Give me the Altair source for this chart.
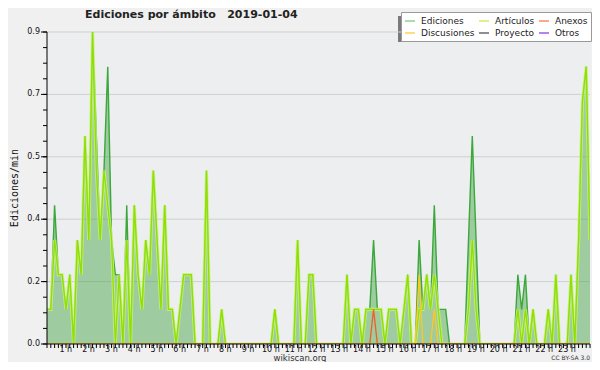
import altair as alt
import pandas as pd

F = "DejaVu Sans"

# legend order (filled column by column, 2 rows)
series_names = ["Ediciones", "Discusiones", "Artículos", "Proyecto", "Anexos", "Otros"]
legend_colors = ["#8fd18f", "#ffd256", "#d2ef5a", "#6a6a6a", "#ff8a5c", "#9a5cf0"]

# edits per minute, one value per 10-minute bin (6 per hour)
ediciones = [
    0.1, 0.1, 0.4, 0.2, 0.2, 0.1,   # 0 h
    0.2, 0.0, 0.3, 0.2, 0.6, 0.3,   # 1 h
    0.9, 0.6, 0.3, 0.5, 0.8, 0.3,   # 2 h
    0.2, 0.2, 0.0, 0.4, 0.0, 0.4,   # 3 h
    0.2, 0.1, 0.3, 0.2, 0.5, 0.3,   # 4 h
    0.1, 0.4, 0.1, 0.1, 0.0, 0.1,   # 5 h
    0.2, 0.2, 0.2, 0.0, 0.0, 0.0,   # 6 h
    0.5, 0.0, 0.0, 0.0, 0.1, 0.0,   # 7 h
    0.0, 0.0, 0.0, 0.0, 0.0, 0.0,   # 8 h
    0.0, 0.0, 0.0, 0.0, 0.0, 0.0,   # 9 h
    0.1, 0.0, 0.0, 0.0, 0.0, 0.0,   # 10 h
    0.3, 0.0, 0.0, 0.2, 0.2, 0.0,   # 11 h
    0.0, 0.0, 0.0, 0.0, 0.0, 0.0,   # 12 h
    0.0, 0.2, 0.0, 0.1, 0.1, 0.0,   # 13 h
    0.1, 0.1, 0.3, 0.1, 0.1, 0.0,   # 14 h
    0.1, 0.1, 0.1, 0.0, 0.1, 0.2,   # 15 h
    0.0, 0.0, 0.3, 0.1, 0.2, 0.1,   # 16 h
    0.4, 0.1, 0.1, 0.1, 0.0, 0.0,   # 17 h
    0.0, 0.0, 0.0, 0.3, 0.6, 0.3,   # 18 h
    0.0, 0.0, 0.0, 0.0, 0.0, 0.0,   # 19 h
    0.0, 0.0, 0.0, 0.0, 0.2, 0.1,   # 20 h
    0.2, 0.0, 0.1, 0.0, 0.0, 0.0,   # 21 h
    0.1, 0.0, 0.2, 0.0, 0.0, 0.0,   # 22 h
    0.2, 0.0, 0.3, 0.7, 0.8, 0.3,   # 23 h
]

articulos = [
    0.1, 0.1, 0.3, 0.2, 0.2, 0.1,   # 0 h
    0.2, 0.0, 0.3, 0.2, 0.6, 0.3,   # 1 h
    0.9, 0.5, 0.3, 0.5, 0.4, 0.3,   # 2 h
    0.0, 0.2, 0.0, 0.3, 0.0, 0.4,   # 3 h
    0.2, 0.1, 0.3, 0.2, 0.5, 0.3,   # 4 h
    0.1, 0.4, 0.1, 0.1, 0.0, 0.1,   # 5 h
    0.2, 0.2, 0.2, 0.0, 0.0, 0.0,   # 6 h
    0.5, 0.0, 0.0, 0.0, 0.1, 0.0,   # 7 h
    0.0, 0.0, 0.0, 0.0, 0.0, 0.0,   # 8 h
    0.0, 0.0, 0.0, 0.0, 0.0, 0.0,   # 9 h
    0.1, 0.0, 0.0, 0.0, 0.0, 0.0,   # 10 h
    0.3, 0.0, 0.0, 0.2, 0.2, 0.0,   # 11 h
    0.0, 0.0, 0.0, 0.0, 0.0, 0.0,   # 12 h
    0.0, 0.2, 0.0, 0.1, 0.1, 0.0,   # 13 h
    0.1, 0.1, 0.1, 0.1, 0.1, 0.0,   # 14 h
    0.1, 0.1, 0.1, 0.0, 0.1, 0.2,   # 15 h
    0.0, 0.0, 0.1, 0.1, 0.2, 0.1,   # 16 h
    0.2, 0.1, 0.0, 0.0, 0.0, 0.0,   # 17 h
    0.0, 0.0, 0.0, 0.1, 0.3, 0.1,   # 18 h
    0.0, 0.0, 0.0, 0.0, 0.0, 0.0,   # 19 h
    0.0, 0.0, 0.0, 0.0, 0.1, 0.0,   # 20 h
    0.1, 0.0, 0.1, 0.0, 0.0, 0.0,   # 21 h
    0.1, 0.0, 0.2, 0.0, 0.0, 0.0,   # 22 h
    0.2, 0.0, 0.3, 0.7, 0.8, 0.3,   # 23 h
]

# only the non-zero bins of the small namespaces
anexos_bins = [86]
anexos_vals = [0.1]
discusiones_bins = [98, 102]
discusiones_vals = [0.2, 0.1]

# axis ticks and labels
y_major = [0.0, 0.18, 0.36, 0.54, 0.72, 0.9]
y_major_labels = ["0.0", "0.2", "0.4", "0.5", "0.7", "0.9"]
y_minor = [round(i * 0.045, 3) for i in range(21)]
x_ticks = list(range(144))
hour_bins = [6 * h for h in range(1, 24)]
hour_labels = [f"{h} h" for h in range(1, 24)]

bins = list(range(len(ediciones)))
anexos = [0.0] * len(bins)
for b, v in zip(anexos_bins, anexos_vals):
    anexos[b] = v
discusiones = [0.0] * len(bins)
for b, v in zip(discusiones_bins, discusiones_vals):
    discusiones[b] = v

df = pd.DataFrame({
    "bin": bins,
    "Ediciones": ediciones,
    "Artículos": articulos,
    "Anexos": anexos,
    "Discusiones": discusiones,
})
long_df = df.melt("bin", var_name="serie", value_name="v")

W, H = 543, 312

x_scale = alt.Scale(domain=[0, 143], nice=False, zero=False)
y_scale = alt.Scale(domain=[0, 0.9], nice=False)


def X(field):
    return alt.X(f"{field}:Q", scale=x_scale, axis=None)


def Y(field):
    return alt.Y(f"{field}:Q", scale=y_scale, axis=None)


base = alt.Chart(df)

# grid lines behind the data
grid = alt.Chart(pd.DataFrame({"g": y_major[1:]})).mark_rule(color="#cfcfcf", strokeWidth=1).encode(
    y=Y("g")
)

legend_layer = alt.Chart(long_df).mark_line(opacity=0).encode(
    x=X("bin"),
    y=Y("v"),
    color=alt.Color(
        "serie:N",
        scale=alt.Scale(domain=series_names, range=legend_colors),
        sort=series_names,
        legend=alt.Legend(
            title=None, orient="none", legendX=354, legendY=-20, columns=3,
            symbolType="stroke", symbolSize=100, symbolStrokeWidth=1.5, symbolOpacity=1,
            labelFont=F, labelFontSize=9, labelColor="#222", labelOffset=5,
            columnPadding=1, rowPadding=1, padding=3,
            fillColor="#ffffff", strokeColor="#999999", cornerRadius=0, labelLimit=0,
        ),
    ),
)

area = base.mark_area(color="#3ca03c", opacity=0.44, interpolate="linear").encode(
    x=X("bin"), y=Y("Ediciones")
)


def series_line(field, color, width, opacity=1.0):
    return base.mark_line(color=color, strokeWidth=width, opacity=opacity, clip=True).encode(
        x=X("bin"), y=Y(field)
    )


ed_line = series_line("Ediciones", "#3aa83a", 1.4)
art_halo = series_line("Artículos", "#c9f27a", 3.2, 0.8)
art_line = series_line("Artículos", "#8fe000", 1.3)
anx_line = series_line("Anexos", "#f06020", 1.3)
dis_line = series_line("Discusiones", "#ffc820", 1.3)

# axes drawn from the tick arrays through the same scales
x_domain = alt.Chart(pd.DataFrame({"z": [0.0]})).mark_rule(color="#000", strokeWidth=1).encode(y=Y("z"))
y_domain = alt.Chart(pd.DataFrame({"z": [0]})).mark_rule(color="#000", strokeWidth=1).encode(x=X("z"))
x_tick_marks = alt.Chart(pd.DataFrame({"t": x_ticks})).mark_rule(color="#000", strokeWidth=1).encode(
    x=X("t"), y=alt.value(H), y2=alt.value(H + 4)
)
x_tick_labels = alt.Chart(pd.DataFrame({"t": hour_bins, "lab": hour_labels})).mark_text(
    font=F, fontSize=8, color="#111", align="center", baseline="middle", dx=-4
).encode(x=X("t"), y=alt.value(H + 6), text="lab:N")
y_minor_marks = alt.Chart(pd.DataFrame({"m": y_minor})).mark_rule(color="#000", strokeWidth=1).encode(
    y=Y("m"), x=alt.value(-4), x2=alt.value(0)
)
y_major_marks = alt.Chart(pd.DataFrame({"m": y_major})).mark_rule(color="#000", strokeWidth=1).encode(
    y=Y("m"), x=alt.value(-6), x2=alt.value(0)
)
y_tick_labels = alt.Chart(pd.DataFrame({"m": y_major, "lab": y_major_labels})).mark_text(
    font=F, fontSize=8, color="#111", align="right", baseline="middle"
).encode(y=Y("m"), x=alt.value(-7), text="lab:N")

notes = pd.DataFrame({"t": ["x"]})
title = alt.Chart(notes).mark_text(
    text="Ediciones por ámbito\u00a0\u00a0 2019-01-04", font=F, fontSize=11, fontWeight="bold",
    color="#222", align="left", baseline="alphabetic",
).encode(x=alt.value(38), y=alt.value(-14))
y_title = alt.Chart(notes).mark_text(
    text="Ediciones/min", font="DejaVu Sans Mono", fontSize=10, color="#111",
    align="center", baseline="middle", angle=270,
).encode(x=alt.value(-32), y=alt.value(H / 2))
shadow = alt.Chart(notes).mark_rect(color="#7a7a7a").encode(
    x=alt.value(351), x2=alt.value(542), y=alt.value(-16), y2=alt.value(10)
)
site = alt.Chart(notes).mark_text(
    text="wikiscan.org", font=F, fontSize=8.5, color="#333", align="center", baseline="middle"
).encode(x=alt.value(253), y=alt.value(326))
lic = alt.Chart(notes).mark_text(
    text="CC BY-SA 3.0", font=F, fontSize=6, color="#333", align="right", baseline="middle"
).encode(x=alt.value(543), y=alt.value(326))

chart = alt.layer(
    shadow, grid, legend_layer, area, ed_line, art_halo, art_line, anx_line, dis_line,
    x_domain, y_domain, x_tick_marks, x_tick_labels, y_minor_marks, y_major_marks,
    y_tick_labels, title, y_title, site, lic
).properties(
    width=W, height=H,
    padding={"left": 39, "top": 24, "right": 2, "bottom": 18},
    autosize=alt.AutoSizeParams(type="none"),
    background="#f0f0f0",
).configure_view(fill="#edeef0", stroke=None)

chart.save("out.html", embed_options={"renderer": "svg", "actions": False})
